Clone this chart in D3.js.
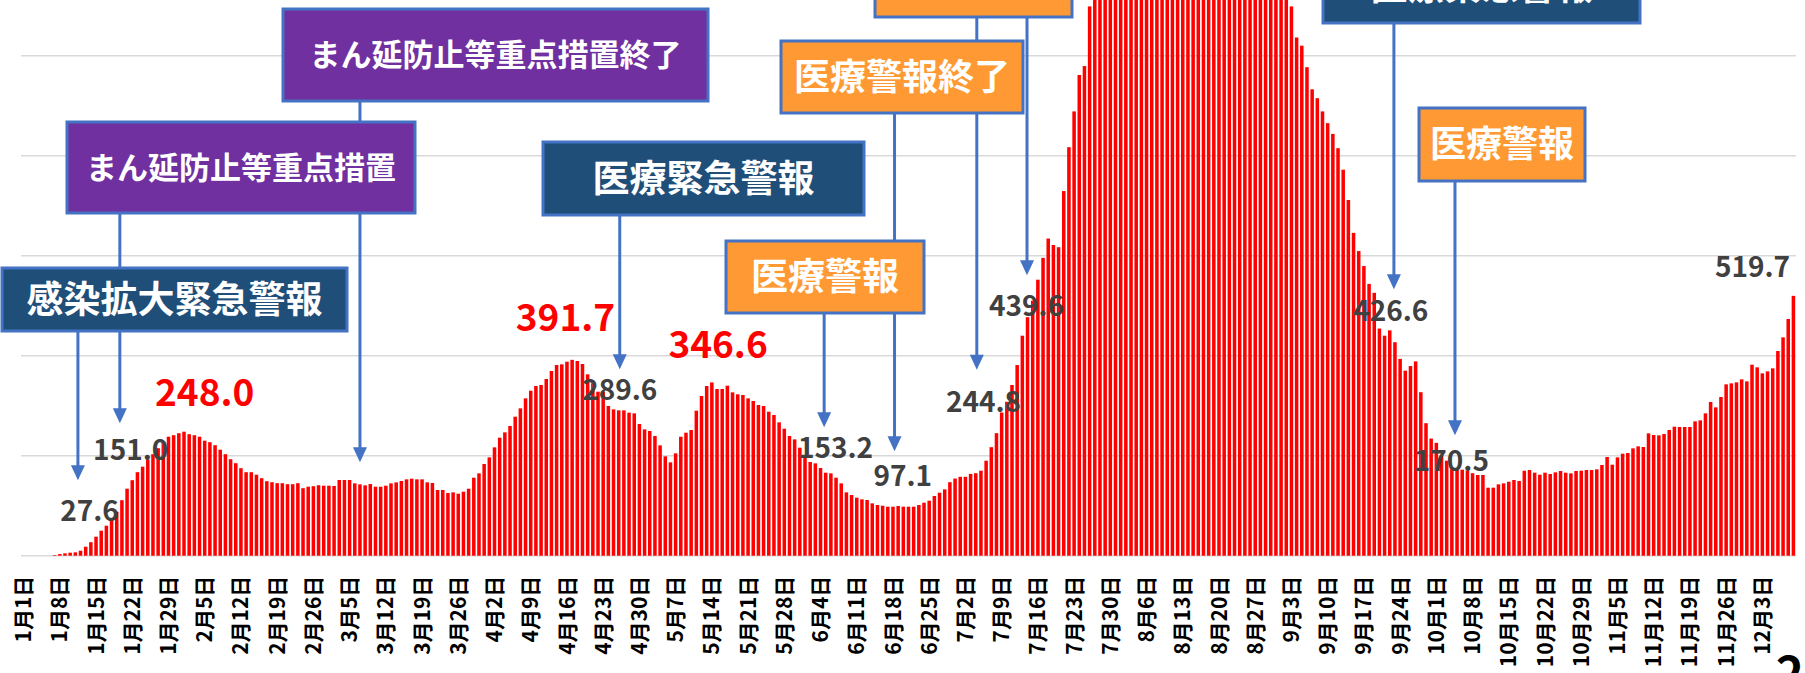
<!DOCTYPE html>
<html lang="ja">
<head>
<meta charset="utf-8">
<script src="https://cdn.jsdelivr.net/npm/d3@7"></script>
<style>
  body { margin: 0; background: #fff; }
  svg { display: block; }
  text { font-family: "Noto Sans CJK JP", "Noto Sans", sans-serif; }
</style>
</head>
<body>
<svg id="chart"></svg>
<script>
// Canvas size
const width = 1805;
const height = 673;

// First day of the series (one bar per day)
const startDate = new Date(2022, 0, 1);

// Daily values (Jan 1 .. Dec 9)
const janFeb = [
  0, 0, 0, 0, 0, 0, 1.3, 3.3, 4.7, 6,
  6.7, 10, 18, 27, 38, 50, 60, 72, 88, 111,
  134, 151, 167, 178, 192, 203, 215, 227, 238, 241,
  245, 248, 243, 241, 238, 230, 227, 221, 212, 203,
  193, 185, 175, 167, 167, 162, 155, 149, 147, 145,
  145, 143, 143, 145, 135, 138, 139, 141, 140, 140
];
const marApr = [
  139.4, 151.4, 151.4, 151.4, 144.7, 142.7, 140.7, 143.4, 138, 138,
  140, 144.7, 146.7, 149.4, 152.7, 154, 152.7, 152.7, 146.7, 145.4,
  131.4, 131.4, 125.4, 126.7, 124, 128, 134, 156, 164.7, 183.4,
  196.7, 216.7, 236, 246.7, 259.4, 278, 294.7, 314.7, 330, 339.4,
  341.4, 353.4, 369.4, 381.4, 382.7, 388, 391.7, 389.4, 383.4, 362.7,
  344.7, 328, 328, 299.4, 292.7, 290.7, 290.7, 286, 284.7, 263.4
];
const mayJun = [
  252.7, 249.4, 239.4, 220.7, 198.7, 186.7, 204.7, 238, 246, 251.4,
  290, 319.4, 339.4, 346.6, 333.4, 333.4, 340, 326.7, 322.7, 321.4,
  314.7, 309.4, 301.4, 299.4, 288, 281.4, 266.7, 254, 239.4, 232.7,
  216, 198, 187.4, 184.7, 175.4, 166, 164.7, 156, 144.7, 126.7,
  121.4, 116, 112.7, 111.4, 104.7, 101.4, 100, 98, 98, 99.4,
  98, 98, 98, 101.4, 106, 110, 119.4, 126, 132.7, 147
];
const julAug = [
  154.3, 157.8, 157.8, 163.6, 165, 170, 190, 217, 245, 286.4,
  307.8, 341.4, 381.4, 440, 477, 510, 552, 595.7, 634.3, 621.4,
  617, 729.3, 817, 888.6, 961.4, 979.3, 1098.6,
  // above the top edge of the picture: estimated
  1150, 1200, 1260, 1320, 1380, 1440, 1500, 1550, 1600, 1640,
  1680, 1710, 1730, 1750, 1760, 1770, 1765, 1750, 1730, 1700,
  1680, 1650, 1620, 1590, 1560, 1520, 1480, 1440, 1400, 1360,
  1320, 1290, 1260, 1230, 1200, 1180, 1160, 1140
];
const sepOct = [
  1098.6, 1036.4, 1020, 977, 932.8, 915, 888.6, 865, 843.6, 815,
  772, 711.4, 645.7, 609.3, 579.3, 543.6, 525.7, 454.3, 440, 450.7,
  427, 393.6, 370, 379.3, 388.6, 327, 265, 234.3, 225.7, 200.7,
  190, 175.7, 172, 172, 170, 165, 161.4
];
const novDec = [
  161.4, 136, 136, 142.7, 144.7, 148, 151.4, 149.4, 170, 171.4,
  166, 162, 166, 163.4, 166.7, 169.4, 166, 164.7, 169.4, 170,
  171.4, 171.4, 172.7, 181.4, 197.4, 182, 196.7, 204, 205.4, 214.7,
  218.7, 217.4, 244.7, 241.4, 240.7, 243.4, 251.4, 258, 257.4, 257.4,
  257.4, 268.7, 270.7, 284.7, 307.4, 296.7, 317.4, 342.7, 344.7, 346.7,
  352.7, 348.7, 382, 376.7, 364.7, 368.7, 374.7, 409.4, 436.7, 473.4,
  519.7
];
const values = [].concat(janFeb, marApr, mayJun, julAug, sepOct, novDec);

// Category indexes and tick labels (every 7 days)
const dayIndex = d3.range(values.length);
const tickDays = d3.range(0, values.length, 7);
const gridValues = [0, 200, 400, 600, 800, 1000];

// Annotation texts
const boxTexts = [
  "まん延防止等重点措置終了", "まん延防止等重点措置", "感染拡大緊急警報",
  "医療緊急警報", "医療警報", "医療警報終了", "医療警報", "医療緊急警報", "医療警報"
];
const dayLabels = ["27.6", "151.0", "289.6", "153.2", "97.1", "244.8", "439.6", "426.6", "170.5", "519.7"];
const peakLabels = ["248.0", "391.7", "346.6"];

// Layout of annotation boxes: [x, y, w, h, fill, font size]
const boxLayout = [
  [283, 9, 425, 92, "#7030a0", 31],
  [67, 122, 348, 91, "#7030a0", 31],
  [2, 268, 345, 63, "#1f4e79", 37],
  [543, 142, 321, 73, "#1f4e79", 37],
  [726, 241, 198, 72, "#ff9933", 37],
  [781, 41, 242, 72, "#ff9933", 36],
  [875, -56, 197, 73, "#ff9933", 37],
  [1323, -50, 317, 73, "#1f4e79", 37],
  [1419, 108, 166, 73, "#ff9933", 36]
];
// Arrows: [day position, start y (box bottom), tip value]
const arrowLayout = [
  [10.5, 331, 151], [18.6, 213, 265], [65, 101, 187], [115.2, 215, 373],
  [154.7, 313, 257], [168.3, 113, 209], [184.2, 17, 372], [193.9, 17, 561],
  [264.8, 23, 533], [276.6, 181, 241]
];
// Label anchors: [day position, value at baseline]
const dayLabelPos = [
  [12.75, 69.4], [20.7, 191.4], [115.2, 311.4], [156.9, 195.4], [169.9, 139.4],
  [185.5, 287.4], [193.8, 479.4], [264.2, 469.4], [275.9, 169.4], [334.1, 557.4]
];
const peakLabelPos = [[35, 299.4], [104.7, 449.4], [134.2, 395.4]];

const svg = d3.select("#chart")
              .attr("width", width)
              .attr("height", height);

// Scales
const x = d3.scaleBand()
            .domain(dayIndex)
            .range([21, 1796])
            .paddingInner(0.32)
            .paddingOuter(0.16);
const xPos = d3.scaleLinear()
               .domain([0, values.length])
               .range([21, 1796]);
const y = d3.scaleLinear()
            .domain([0, 1000])
            .range([555.7, 55.7]);

// Gridlines
svg.append("g")
   .selectAll("line")
   .data(gridValues)
   .enter().append("line")
   .attr("x1", 21)
   .attr("x2", 1796)
   .attr("y1", d => y(d))
   .attr("y2", d => y(d))
   .attr("stroke", "#d9d9d9")
   .attr("stroke-width", 1.5);

// Bars
svg.append("g")
   .selectAll("rect")
   .data(values)
   .enter().append("rect")
   .attr("x", (d, i) => x(i))
   .attr("y", d => y(d))
   .attr("width", x.bandwidth())
   .attr("height", d => y(0) - y(d))
   .attr("fill", "#ff0000");

// X axis labels, rotated
const fmt = i => {
  const dt = d3.timeDay.offset(startDate, i);
  return `${dt.getMonth() + 1}月${dt.getDate()}日`;
};
const xAxis = svg.append("g")
   .attr("transform", `translate(0,${y(0)})`)
   .call(d3.axisBottom(x).tickValues(tickDays).tickFormat(fmt).tickSize(0));
xAxis.select(".domain").remove();
xAxis.selectAll("text")
     .attr("transform", "rotate(-90)")
     .attr("x", -20)
     .attr("y", 0)
     .attr("dy", "0.36em")
     .style("text-anchor", "end")
     .style("font-family", "'Noto Sans CJK JP', sans-serif")
     .style("font-size", "21px")
     .style("font-weight", "bold")
     .attr("fill", "#000");

// Arrow lines and heads
const arrows = svg.append("g");
arrowLayout.forEach(([d, y0, v]) => {
  const ax = xPos(d + 0.5);
  const tip = y(v);
  arrows.append("line")
        .attr("x1", ax).attr("x2", ax)
        .attr("y1", y0).attr("y2", tip - 12)
        .attr("stroke", "#4472c4")
        .attr("stroke-width", 3);
  arrows.append("path")
        .attr("d", `M${ax - 7},${tip - 15}L${ax + 7},${tip - 15}L${ax},${tip}Z`)
        .attr("fill", "#4472c4");
});

// Annotation boxes
const boxes = svg.append("g")
   .selectAll("g")
   .data(boxLayout)
   .enter().append("g");
boxes.append("rect")
     .attr("x", d => d[0])
     .attr("y", d => d[1])
     .attr("width", d => d[2])
     .attr("height", d => d[3])
     .attr("fill", d => d[4])
     .attr("stroke", "#4472c4")
     .attr("stroke-width", 3);
boxes.append("text")
     .attr("x", d => d[0] + d[2] / 2)
     .attr("y", d => d[1] + d[3] / 2)
     .attr("dy", "0.36em")
     .attr("text-anchor", "middle")
     .attr("fill", "#fff")
     .style("font-size", d => d[5] + "px")
     .style("font-weight", "bold")
     .text((d, i) => boxTexts[i]);

// Value labels
svg.append("g")
   .selectAll("text")
   .data(dayLabels)
   .enter().append("text")
   .attr("x", (d, i) => xPos(dayLabelPos[i][0] + 0.5))
   .attr("y", (d, i) => y(dayLabelPos[i][1]))
   .attr("text-anchor", "middle")
   .attr("fill", "#404040")
   .style("font-size", "28px")
   .style("font-weight", "bold")
   .text(d => d);

svg.append("g")
   .selectAll("text")
   .data(peakLabels)
   .enter().append("text")
   .attr("x", (d, i) => xPos(peakLabelPos[i][0] + 0.5))
   .attr("y", (d, i) => y(peakLabelPos[i][1]))
   .attr("text-anchor", "middle")
   .attr("fill", "#ff0000")
   .style("font-size", "37px")
   .style("font-weight", "bold")
   .text(d => d);

// Clipped heading glyph at the bottom right corner
svg.append("text")
   .attr("x", 1790)
   .attr("y", 692)
   .attr("text-anchor", "middle")
   .attr("fill", "#000")
   .style("font-size", "48px")
   .style("font-weight", "bold")
   .text("2");
</script>
</body>
</html>
